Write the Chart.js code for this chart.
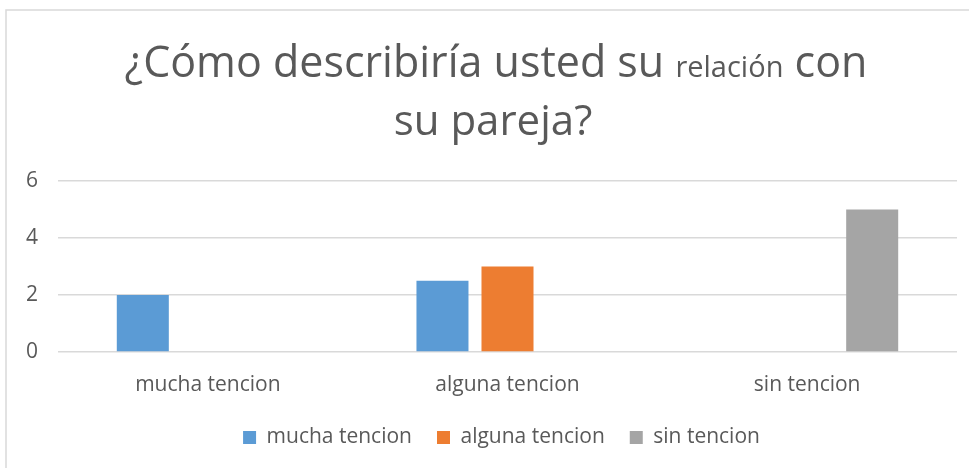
<!DOCTYPE html>
<html>
<head>
<meta charset="utf-8">
<script src="https://cdn.jsdelivr.net/npm/chart.js@4"></script>
<style>
  html, body { margin: 0; padding: 0; background: #fff; }
  #wrap { width: 969px; height: 468px; position: relative; }
</style>
</head>
<body>
<div id="wrap"><canvas id="grafico" width="969" height="468"></canvas></div>
<script>
// ===== datos =====
const categorias = ['mucha tencion', 'alguna tencion', 'sin tencion'];
const muchaTencion = [2, 2.5, 0];
const algunaTencion = [0, 3, 0];
const sinTencion = [0, 0, 5];
const ticksY = [0, 2, 4, 6];

// titulo: la palabra "relación" va más pequeña en el original
const tituloLinea1 = [
  { texto: '¿Cómo describiría usted su ', grande: true },
  { texto: 'relación', grande: false },
  { texto: ' con', grande: true }
];
const tituloLinea2 = 'su pareja?';

const FUENTE = "'Open Sans', 'Noto Sans', sans-serif";
const GRIS_TEXTO = '#595959';

// ===== marco + titulo =====
const marcoTitulo = {
  id: 'marcoTitulo',
  afterLayout(chart) {
    // la leyenda del original está un poco corrida a la derecha
    if (chart.legend) {
      chart.legend.left += 20;
      chart.legend.right += 20;
    }
  },
  beforeDraw(chart) {
    const ctx = chart.ctx;
    ctx.save();
    ctx.strokeStyle = '#d9d9d9';
    ctx.lineWidth = 1.5;
    ctx.beginPath();
    ctx.moveTo(6, chart.height);
    ctx.lineTo(6, 10);
    ctx.lineTo(chart.width, 10);
    ctx.stroke();
    ctx.restore();
  },
  afterDraw(chart) {
    const ctx = chart.ctx;
    const cx = 496;
    ctx.save();
    ctx.fillStyle = GRIS_TEXTO;
    ctx.textBaseline = 'alphabetic';
    ctx.textAlign = 'left';

    const fGrande = '43px ' + FUENTE;
    const fChica = '29px ' + FUENTE;
    let total = 0;
    tituloLinea1.forEach(s => {
      ctx.font = s.grande ? fGrande : fChica;
      total += ctx.measureText(s.texto).width;
    });
    let x = cx - total / 2;
    tituloLinea1.forEach(s => {
      ctx.font = s.grande ? fGrande : fChica;
      ctx.fillText(s.texto, x, 77);
      x += ctx.measureText(s.texto).width;
    });

    ctx.font = '42px ' + FUENTE;
    ctx.textAlign = 'center';
    ctx.fillText(tituloLinea2, cx - 3, 135);
    ctx.restore();
  }
};

Chart.defaults.font.family = FUENTE;
Chart.defaults.color = GRIS_TEXTO;

new Chart(document.getElementById('grafico'), {
  type: 'bar',
  data: {
    labels: categorias,
    datasets: [
      { label: 'mucha tencion', data: muchaTencion, backgroundColor: '#5b9bd5' },
      { label: 'alguna tencion', data: algunaTencion, backgroundColor: '#ed7d31' },
      { label: 'sin tencion', data: sinTencion, backgroundColor: '#a5a5a5' }
    ]
  },
  options: {
    responsive: false,
    animation: false,
    devicePixelRatio: 1,
    categoryPercentage: 0.651,
    barPercentage: 0.8,
    layout: { padding: { top: 181, left: 6, right: 12, bottom: 10 } },
    plugins: {
      legend: {
        position: 'bottom',
        labels: {
          boxWidth: 13,
          boxHeight: 13,
          padding: 25,
          font: { size: 21 },
          color: GRIS_TEXTO
        }
      },
      tooltip: { enabled: false }
    },
    scales: {
      x: {
        grid: { display: false },
        border: { display: false },
        ticks: { font: { size: 21 }, color: GRIS_TEXTO, padding: 12 },
        afterFit(scale) { scale.height = 50; }
      },
      y: {
        min: 0,
        max: 6,
        afterBuildTicks(scale) { scale.ticks = ticksY.map(v => ({ value: v })); },
        grid: { color: '#d9d9d9', lineWidth: 1.5, drawTicks: false },
        border: { display: false },
        ticks: { font: { size: 21 }, color: GRIS_TEXTO, padding: 20 },
        afterFit(scale) { scale.width = 52; }
      }
    }
  },
  plugins: [marcoTitulo]
});
</script>
</body>
</html>
